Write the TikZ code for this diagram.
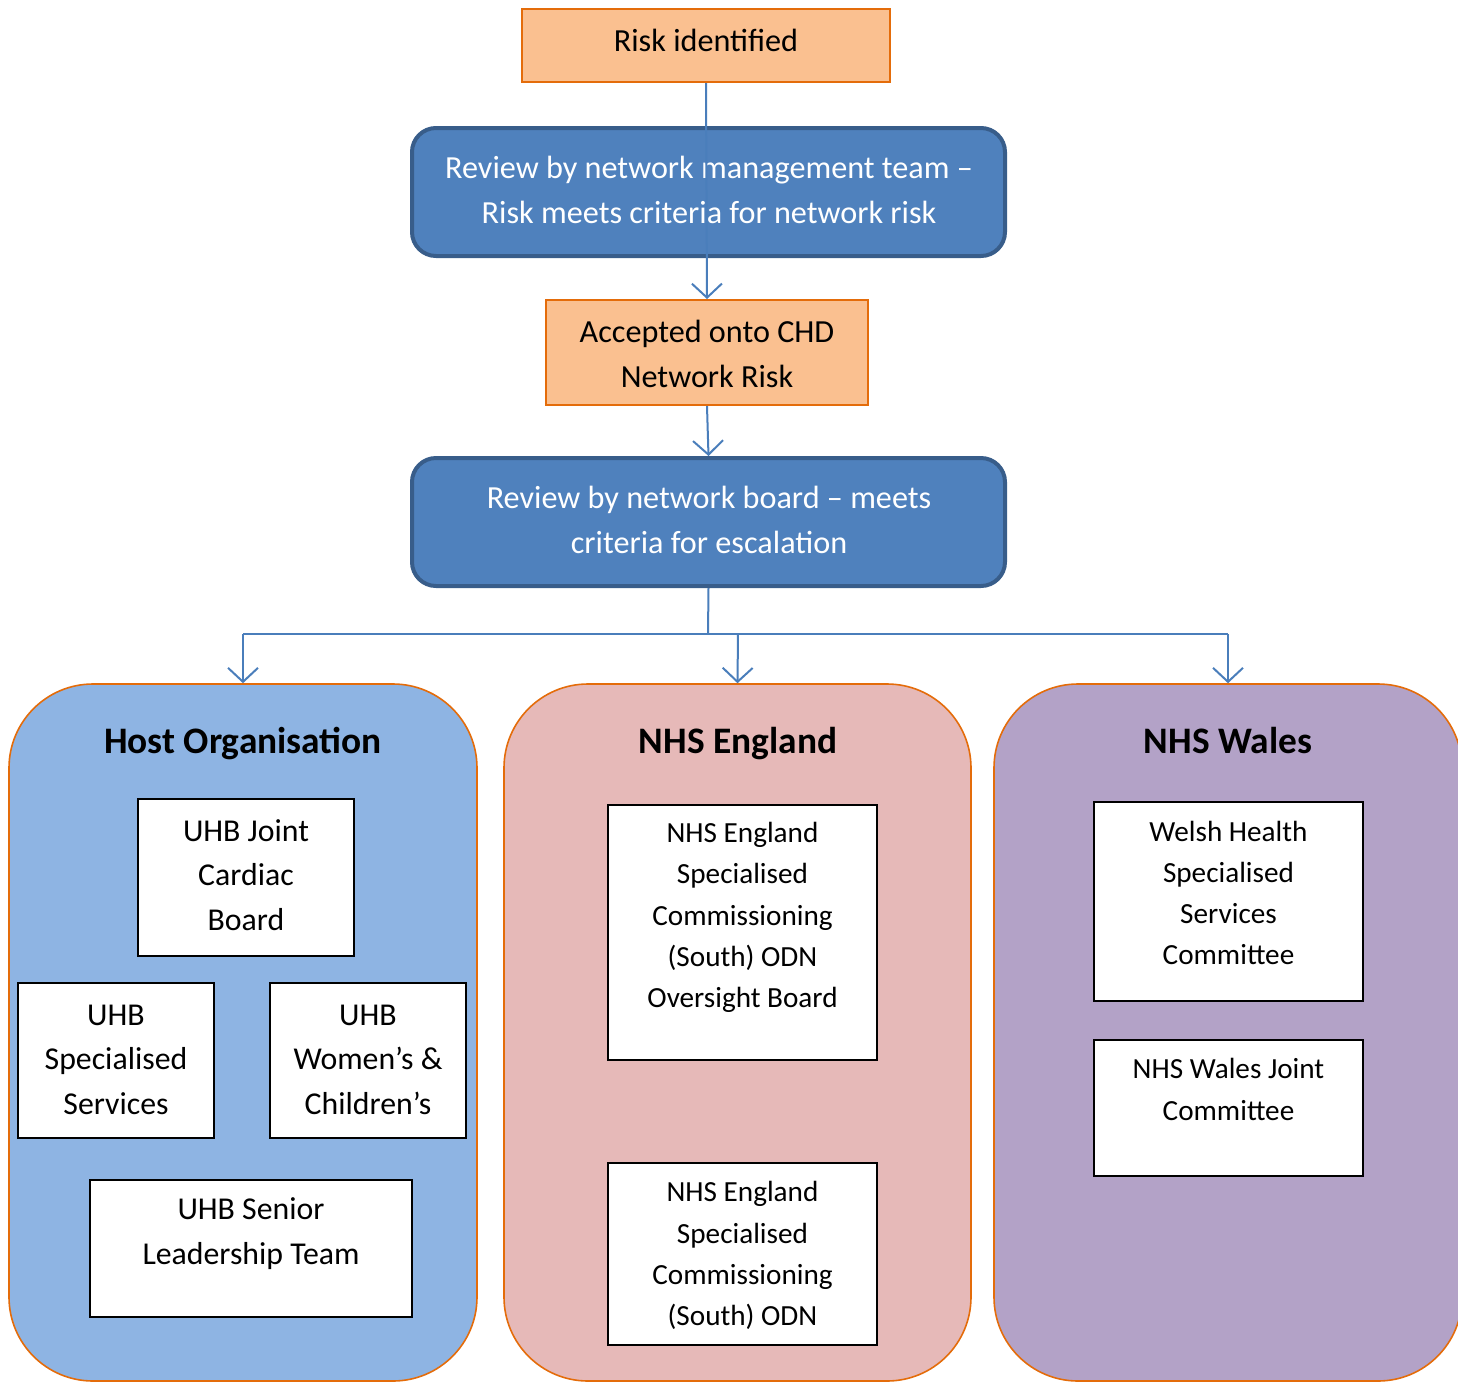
\documentclass[tikz,border=0pt]{standalone}
\usepackage{fontspec}
\setmainfont{Carlito}
\usetikzlibrary{arrows.meta}
\definecolor{orfill}{HTML}{FAC090}
\definecolor{ordraw}{HTML}{E46C0A}
\definecolor{bluefill}{HTML}{4F81BD}
\definecolor{bluedraw}{HTML}{385D8A}
\definecolor{conncol}{HTML}{4A7EBB}
\definecolor{hostfill}{HTML}{8EB4E3}
\definecolor{engfill}{HTML}{E6B9B8}
\definecolor{walesfill}{HTML}{B3A2C7}
\tikzset{
  orbox/.style={draw=ordraw, line width=1pt, fill=orfill, rectangle, inner sep=0pt},
  bluebox/.style={draw=bluedraw, line width=2pt, fill=bluefill, rectangle, rounded corners=12pt, inner sep=0pt},
  container/.style={draw=ordraw, line width=0.8pt, rectangle, rounded corners=42pt, inner sep=0pt},
  whitebox/.style={draw=black, line width=1pt, fill=white, rectangle, inner sep=0pt},
  bigtxt/.style={align=center, font=\fontsize{16.1}{22.5}\selectfont, inner sep=0pt},
  boxtxt/.style={align=center, font=\fontsize{15.9}{22.3}\selectfont, inner sep=0pt},
  smalltxt/.style={align=center, font=\fontsize{14.6}{20.6}\selectfont, inner sep=0pt},
  titletxt/.style={font=\fontsize{18.7}{22}\selectfont\bfseries, inner sep=0pt, anchor=base},
  conn/.style={draw=conncol, line width=1pt},
  arr/.style={conn, -{Straight Barb[length=7pt,width=15pt,line width=1pt]}}
}
\begin{document}
\begin{tikzpicture}[x=0.5pt,y=-0.5pt]
\useasboundingbox (0,0) rectangle (1458,1383);
% top flow
\node[orbox, minimum width=184pt, minimum height=36.5pt] (risk) at (706,45.5) {};
\node[bigtxt] (risktxt) at (706,40) {Risk identified};
\node[bluebox, minimum width=296.5pt, minimum height=64pt] (rev1) at (708.5,192) {};
\node[bigtxt, text=white] (rev1txt) at (709,190) {Review by network management team –\\Risk meets criteria for network risk};
\node[orbox, minimum width=161pt, minimum height=52.5pt] (acc) at (707,352.5) {};
\node[bigtxt] (acctxt) at (707,353.5) {Accepted onto CHD\\Network Risk};
\node[bluebox, minimum width=296.5pt, minimum height=64pt] (rev2) at (708.5,522) {};
\node[bigtxt, text=white] (rev2txt) at (709,519.5) {Review by network board – meets\\criteria for escalation};
% containers
\node[container, fill=hostfill, minimum width=234pt, minimum height=348.5pt] (host) at (243,1032.5) {};
\node[container, fill=engfill, minimum width=233.5pt, minimum height=348.5pt] (eng) at (737.5,1032.5) {};
\node[container, fill=walesfill, minimum width=234pt, minimum height=348.5pt] (wales) at (1228,1032.5) {};
\node[titletxt] (hosttitle) at (243,753) {Host Organisation};
\node[titletxt] (engtitle) at (738,753) {NHS England};
\node[titletxt] (walestitle) at (1228,753) {NHS Wales};
% host inner boxes
\node[whitebox, minimum width=108pt, minimum height=78.5pt] (jb) at (246,877.5) {};
\node[boxtxt] (jbtxt) at (246,875) {UHB Joint\\Cardiac\\Board};
\node[whitebox, minimum width=98pt, minimum height=77.5pt] (ss) at (116,1060.5) {};
\node[boxtxt] (sstxt) at (116,1059.5) {UHB\\Specialised\\Services};
\node[whitebox, minimum width=98pt, minimum height=77.5pt] (wc) at (368,1060.5) {};
\node[boxtxt] (wctxt) at (368,1059.5) {UHB\\Women’s \&\\Children’s};
\node[whitebox, minimum width=161pt, minimum height=68.5pt] (sl) at (251,1248.5) {};
\node[boxtxt] (sltxt) at (251,1233.5) {UHB Senior\\Leadership Team};
% england inner boxes
\node[whitebox, minimum width=134.5pt, minimum height=127.5pt] (e1) at (742.5,932.5) {};
\node[smalltxt] (e1txt) at (742.5,917.5) {NHS England\\Specialised\\Commissioning\\(South) ODN\\Oversight Board};
\node[whitebox, minimum width=134.5pt, minimum height=91pt] (e2) at (742.5,1254) {};
\node[smalltxt] (e2txt) at (742.5,1255.5) {NHS England\\Specialised\\Commissioning\\(South) ODN};
% wales inner boxes
\node[whitebox, minimum width=134.5pt, minimum height=99.5pt] (wh) at (1228.5,901.5) {};
\node[smalltxt] (whtxt) at (1228.5,893) {Welsh Health\\Specialised\\Services\\Committee};
\node[whitebox, minimum width=134.5pt, minimum height=68pt] (wj) at (1228.5,1108) {};
\node[smalltxt] (wjtxt) at (1228.5,1089.5) {NHS Wales Joint\\Committee};
% connectors
\draw[arr] (risk.south) -- (acc.north);
\draw[arr] (acc.south) -- (rev2.north);
\coordinate (jy) at (708,634);
\coordinate (jl) at (243,634);
\coordinate (jm) at (738,634);
\coordinate (jr) at (1228,634);
\draw[conn] (rev2.south) -- (jy);
\draw[conn] (jl) -- (jr);
\draw[arr] (jl) -- (host.north);
\draw[arr] (jm) -- (eng.north);
\draw[arr] (jr) -- (wales.north);
\end{tikzpicture}
\end{document}
